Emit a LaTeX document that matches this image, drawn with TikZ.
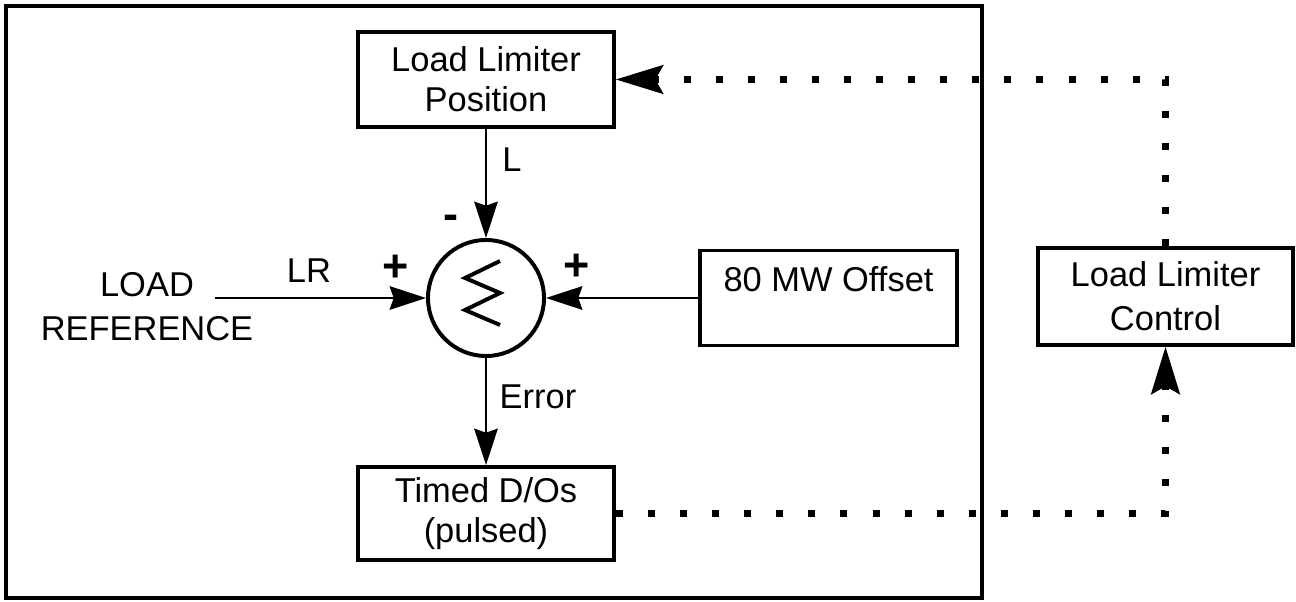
\documentclass[tikz,border=0pt]{standalone}
\usepackage{fontspec}
\setmainfont{Liberation Sans}
\usetikzlibrary{arrows.meta}

\begin{document}
\begin{tikzpicture}[x=0.025cm,y=-0.025cm,
    font=\fontsize{24.5}{28.5}\selectfont,
    blk/.style={draw,line width=2.8pt,align=center,inner sep=0pt},
    sumnode/.style={draw,circle,line width=2.8pt,minimum size=2.9cm,inner sep=0pt},
    sgn/.style={font=\fontsize{32}{34}\selectfont\bfseries},
    sig/.style={line width=2.1pt,-{Stealth[length=26pt,width=17pt,inset=3pt,line width=0pt]}},
    dotline/.style={line width=5pt,dash pattern=on 5pt off 17.8pt,
      -{Stealth[length=34pt,width=21pt,inset=6pt,line width=0pt]}}]
    \useasboundingbox (0,0) rectangle (1296,602);
    % frame round the controller
    \draw[line width=2.8pt] (6,6) rectangle (982,598);
    \node[blk,minimum width=6.4cm,minimum height=2.375cm] (pos) at (486,79.5) {Load Limiter\\Position};
    \node[sumnode] (sum) at (486,298) {};
    \draw[line width=2.8pt,line join=miter] ([shift={(14,-37)}]sum.center) -- ++(-35,17) -- ++(35,15) -- ++(-35,17) -- ++(35,15);
    \node[blk,minimum width=6.425cm,minimum height=2.375cm,text depth=27pt] (off) at (828.5,298) {80 MW Offset};
    \node[blk,minimum width=6.4cm,minimum height=2.325cm] (tim) at (486,513.5) {Timed D/Os\\(pulsed)};
    \node[blk,minimum width=6.375cm,minimum height=2.425cm] (ctl) at (1165.5,296.5) {Load Limiter\\[2.8pt]Control};
    \node[align=center] (lref) at (147,307) {LOAD\\[2.8pt]REFERENCE};
    \coordinate (lrin) at (215,298);
    % signals
    \draw[sig] (pos) -- (sum);
    \draw[sig] (lrin) -- (sum);
    \draw[sig] (off) -- (sum);
    \draw[sig] (sum) -- (tim);
    \draw[dotline] (ctl.north) |- (pos.east);
    \draw[dotline] (tim.east) -| (ctl.south);
    % labels
    \node (lbl) at (512,160) {L};
    \node[sgn] (mns) at (451,222) {-};
    \node[sgn] (pl1) at (396,268) {+};
    \node[sgn] (pl2) at (577,267) {+};
    \node (lr) at (309,271) {LR};
    \node (err) at (538,397) {Error};
\end{tikzpicture}
\end{document}
